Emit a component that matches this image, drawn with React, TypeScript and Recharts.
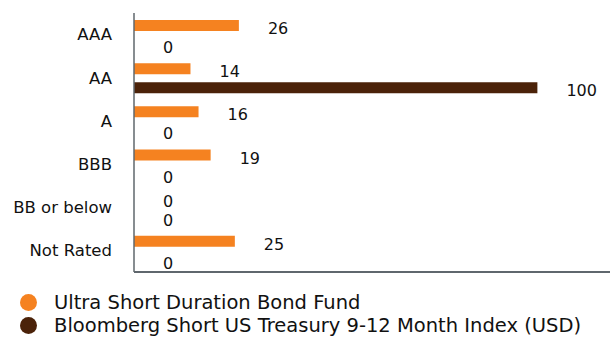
import { BarChart, Bar, XAxis, YAxis, LabelList } from "recharts";

const categories = ["AAA", "AA", "A", "BBB", "BB or below", "Not Rated"];
const fundValues = [26, 14, 16, 19, 0, 25];
const indexValues = [0, 100, 0, 0, 0, 0];

const FUND = { name: "Ultra Short Duration Bond Fund", color: "#f58220" };
const INDEX = { name: "Bloomberg Short US Treasury 9-12 Month Index (USD)", color: "#4b2209" };

const data = categories.map((c, i) => ({
  category: c,
  fund: fundValues[i],
  index: indexValues[i],
}));

const FONT = "'DejaVu Sans', sans-serif";

const renderValue = (props: any) => {
  const { x, y, width, height, value } = props;
  return (
    <text
      x={Number(x) + Number(width) + 29}
      y={Number(y) + Number(height) / 2 + 3}
      dominantBaseline="central"
      fontFamily={FONT}
      fontSize={16}
      fill="#111"
    >
      {Math.round(Number(value))}
    </text>
  );
};

export default function App() {
  return (
    <div style={{ position: "absolute", left: 0, top: 0, width: 613, height: 345, background: "#fff" }}>
      <BarChart
        width={613}
        height={274}
        data={data}
        layout="vertical"
        margin={{ top: 13, right: 3, bottom: 0, left: 0 }}
        barSize={11}
        barGap={8}
      >
        <XAxis
          type="number"
          domain={[0, 118]}
          height={2}
          tick={false}
          tickLine={false}
          axisLine={{ stroke: "#5f676d", strokeWidth: 2 }}
        />
        <YAxis
          type="category"
          dataKey="category"
          width={134}
          tickSize={0}
          tickMargin={22}
          tickLine={false}
          axisLine={{ stroke: "#5f676d", strokeWidth: 1.5 }}
          tick={{ fontFamily: FONT, fontSize: 16.5, fill: "#111" }}
          interval={0}
        />
        <Bar dataKey="fund" fill={FUND.color} minPointSize={0.01} isAnimationActive={false}>
          <LabelList dataKey="fund" content={renderValue} />
        </Bar>
        <Bar dataKey="index" fill={INDEX.color} minPointSize={0.01} isAnimationActive={false}>
          <LabelList dataKey="index" content={renderValue} />
        </Bar>
      </BarChart>
      <div style={{ position: "absolute", left: 20, top: 291, fontFamily: FONT, fontSize: 19.5, color: "#111" }}>
        {[FUND, INDEX].map((s) => (
          <div key={s.name} style={{ display: "flex", alignItems: "center", height: 23 }}>
            <span
              style={{
                display: "inline-block",
                width: 17,
                height: 17,
                borderRadius: "50%",
                background: s.color,
                marginRight: 17,
                flexShrink: 0,
              }}
            />
            <span style={{ whiteSpace: "nowrap" }}>{s.name}</span>
          </div>
        ))}
      </div>
    </div>
  );
}
